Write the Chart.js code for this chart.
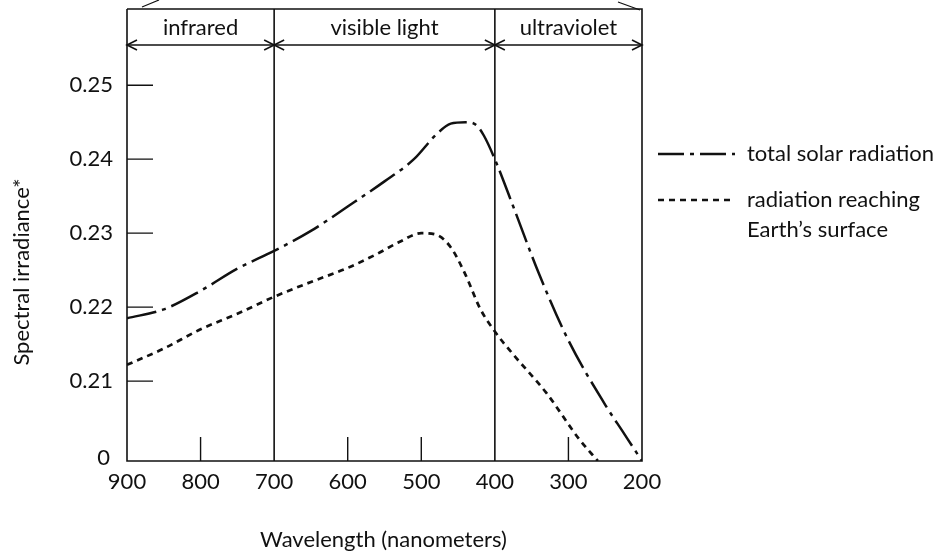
<html>
<head></head>
<body style="margin:0;background:#fff">
    <div style="width:948px;height:556px">
        <canvas id="myChart" width="948" height="556"></canvas>
    </div>
    <script src="https://cdn.jsdelivr.net/npm/chart.js"></script>
    <script>
        // wavelength (nm) and spectral irradiance
        // a value of 0 sits at the bottom of the broken y axis
        const totalWave = [900, 850, 800, 750, 700, 650, 600, 550, 510, 480, 460, 440, 425, 415, 400, 375, 340, 300, 250, 225, 200];
        const totalVal  = [0.2185, 0.2197, 0.2222, 0.2252, 0.2276, 0.2303, 0.2336, 0.2370, 0.2400, 0.2433, 0.2448, 0.2450, 0.2446, 0.2432, 0.2400, 0.2336, 0.2245, 0.2155, 0.2068, 0.2030, 0];

        const surfWave = [900, 850, 800, 750, 700, 650, 600, 560, 530, 500, 480, 460, 440, 420, 400, 375, 330, 285, 260];
        const surfVal  = [0.2122, 0.2144, 0.2170, 0.2191, 0.2214, 0.2234, 0.2253, 0.2272, 0.2288, 0.2300, 0.2298, 0.2281, 0.2244, 0.2198, 0.2167, 0.2136, 0.2084, 0.2021, 0];

        const xTickLabels = [900, 800, 700, 600, 500, 400, 300, 200];
        const xShortTicks = [800, 600, 500, 300];
        const yTickLabels = [0.21, 0.22, 0.23, 0.24, 0.25];
        const bands = [
            { from: 900, to: 700, label: 'infrared' },
            { from: 700, to: 400, label: 'visible light' },
            { from: 400, to: 200, label: 'ultraviolet' }
        ];

        // the axis jumps from 0 straight to 0.21
        const Y_FLOOR = 0.1992;
        const Y_TOP = 0.2603;
        const plotY = v => (v === 0 ? Y_FLOOR : v);

        const INK = '#111';
        const FONT = 'Lato, "Open Sans", sans-serif';

        function arrowHead(ctx, x, y, dir) {
            ctx.beginPath();
            ctx.moveTo(x - dir * 10, y - 5);
            ctx.lineTo(x, y);
            ctx.lineTo(x - dir * 10, y + 5);
            ctx.stroke();
        }

        const frame = {
            id: 'frame',
            afterDatasetsDraw(chart) {
                const { ctx, chartArea: a, scales: { x, y } } = chart;
                const x0 = x.getPixelForValue(900), x1 = x.getPixelForValue(200);
                const yb = y.getPixelForValue(Y_FLOOR), yt = a.top;
                ctx.save();
                ctx.strokeStyle = INK;
                ctx.fillStyle = INK;
                ctx.lineWidth = 1.6;

                // box and band dividers
                ctx.beginPath();
                ctx.moveTo(x0, yt); ctx.lineTo(x0, yb); ctx.lineTo(x1, yb); ctx.lineTo(x1, yt); ctx.lineTo(x0, yt);
                [700, 400].forEach(w => {
                    const px = x.getPixelForValue(w);
                    ctx.moveTo(px, yt); ctx.lineTo(px, yb);
                });
                ctx.stroke();

                // small bracket stubs above the box
                ctx.lineWidth = 1.2;
                ctx.beginPath();
                ctx.moveTo(x0 + 15, yt - 2); ctx.lineTo(x0 + 32, yt - 9);
                ctx.moveTo(x1 - 2, yt + 1); ctx.lineTo(x1 - 24, yt - 7);
                ctx.stroke();

                // band arrows and labels
                const ya = yt + 36;
                ctx.lineWidth = 1.6;
                ctx.font = '22px ' + FONT;
                ctx.textAlign = 'center';
                ctx.textBaseline = 'middle';
                bands.forEach(b => {
                    const p0 = x.getPixelForValue(b.from), p1 = x.getPixelForValue(b.to);
                    ctx.beginPath(); ctx.moveTo(p0, ya); ctx.lineTo(p1, ya); ctx.stroke();
                    arrowHead(ctx, p0, ya, -1);
                    arrowHead(ctx, p1, ya, 1);
                    ctx.fillText(b.label, (p0 + p1) / 2, yt + 19);
                });

                // tick marks drawn inside the plot
                ctx.lineWidth = 1.4;
                ctx.beginPath();
                yTickLabels.forEach(v => {
                    const py = y.getPixelForValue(v);
                    ctx.moveTo(x0, py); ctx.lineTo(x0 + 26, py);
                });
                xShortTicks.forEach(w => {
                    const px = x.getPixelForValue(w);
                    ctx.moveTo(px, yb); ctx.lineTo(px, yb - 24);
                });
                ctx.stroke();

                // tick labels
                ctx.font = '22px ' + FONT;
                ctx.textAlign = 'right';
                yTickLabels.forEach(v => ctx.fillText(v.toFixed(2), x0 - 14, y.getPixelForValue(v)));
                ctx.fillText('0', x0 - 17, yb - 3);
                ctx.textAlign = 'center';
                xTickLabels.forEach(w => ctx.fillText(String(w), x.getPixelForValue(w), yb + 21));

                // axis titles
                ctx.font = '22px ' + FONT;
                ctx.fillText('Wavelength (nanometers)', (x0 + x1) / 2 - 1, yb + 79);
                ctx.save();
                ctx.translate(22, 272);
                ctx.rotate(-Math.PI / 2);
                ctx.fillText('Spectral irradiance*', 0, 0);
                ctx.restore();

                // legend
                const lx0 = x1 + 16, lx1 = x1 + 93;
                ctx.font = '22px ' + FONT;
                ctx.textAlign = 'left';
                chart.data.datasets.forEach((ds, i) => {
                    const ly = i === 0 ? 154 : 200;
                    ctx.save();
                    ctx.lineWidth = ds.borderWidth;
                    ctx.setLineDash(i === 0 ? [26, 6, 4, 6] : ds.borderDash);
                    ctx.beginPath(); ctx.moveTo(lx0, ly); ctx.lineTo(lx1, ly); ctx.stroke();
                    ctx.restore();
                    ds.label.split('\n').forEach((t, k) => ctx.fillText(t, lx1 + 12, ly + k * 30));
                });
                ctx.restore();
            }
        };

        const chartCanvas = document.querySelector('#myChart');
        new Chart(chartCanvas, {
            type: 'line',
            data: {
                datasets: [{
                    label: 'total solar radiation',
                    data: totalWave.map((w, i) => ({ x: w, y: plotY(totalVal[i]) })),
                    borderColor: INK,
                    borderWidth: 2.5,
                    borderDash: [30, 6, 4, 6],
                    cubicInterpolationMode: 'monotone',
                    pointRadius: 0
                }, {
                    label: 'radiation reaching\nEarth\u2019s surface',
                    data: surfWave.map((w, i) => ({ x: w, y: plotY(surfVal[i]) })),
                    borderColor: INK,
                    borderWidth: 2.7,
                    borderDash: [6, 5],
                    cubicInterpolationMode: 'monotone',
                    pointRadius: 0
                }]
            },
            options: {
                responsive: false,
                animation: false,
                devicePixelRatio: 1,
                layout: { padding: { left: 127, right: 306, top: 9, bottom: 95 } },
                plugins: { legend: { display: false }, tooltip: { enabled: false } },
                scales: {
                    x: { type: 'linear', reverse: true, min: 200, max: 900, display: false },
                    y: { type: 'linear', min: Y_FLOOR, max: Y_TOP, display: false }
                }
            },
            plugins: [frame]
        });
    </script>
</body>
</html>
